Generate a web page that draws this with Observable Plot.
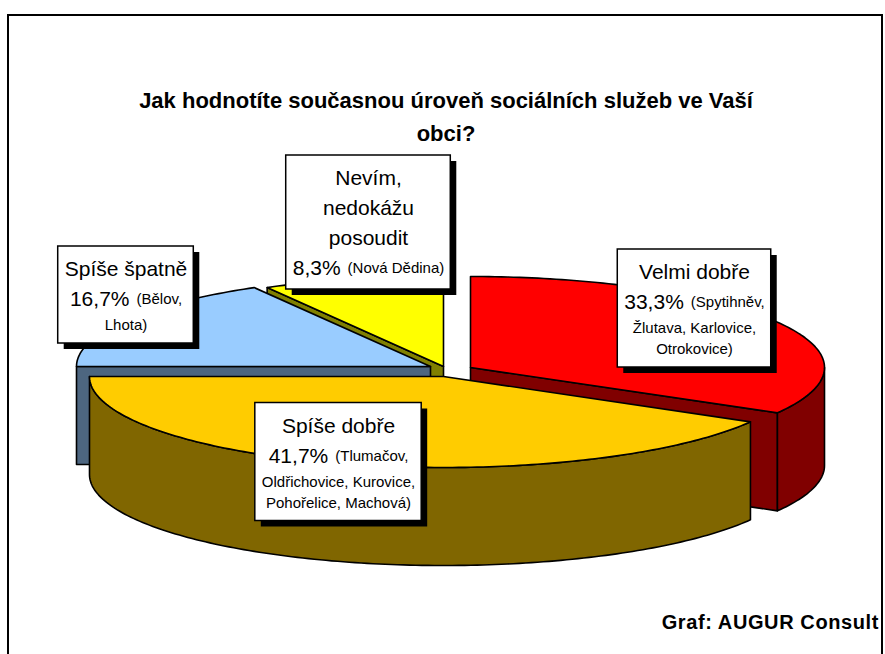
<!DOCTYPE html>
<html><head><meta charset="utf-8">
<script src="https://cdn.jsdelivr.net/npm/d3@7"></script>
<script src="https://cdn.jsdelivr.net/npm/@observablehq/plot@0.6"></script>
<style>
body{margin:0;background:#fff;}
#wrap{position:relative;width:885px;height:654px;overflow:hidden;font-family:"Liberation Sans",Arial,sans-serif;color:#000;}
#chart{position:absolute;left:0;top:0;}
#frame{position:absolute;left:7px;top:14px;width:872px;height:700px;border:2px solid #000;pointer-events:none;}
#title{position:absolute;left:126px;width:640px;top:84px;text-align:center;font-weight:bold;font-size:22px;line-height:33px;}
#caption{position:absolute;right:6px;top:611px;font-weight:bold;font-size:20px;letter-spacing:0.6px;white-space:nowrap;}
</style></head>
<body><div id="wrap"><div id="chart"></div><div id="frame"></div><div id="title"></div><div id="caption"></div></div>
<script>
// ---- data ----
const titleText = "Jak hodnotíte současnou úroveň sociálních služeb ve Vaší obci?";
const captionText = "Graf: AUGUR Consult";
const categories = ["Velmi dobře", "Spíše dobře", "Spíše špatně", "Nevím, nedokážu posoudit"];
const shares = [33.3, 41.7, 16.7, 8.3];
const towns = [
  ["Spytihněv", "Žlutava", "Karlovice", "Otrokovice"],
  ["Tlumačov", "Oldřichovice", "Kurovice", "Pohořelice", "Machová"],
  ["Bělov", "Lhota"],
  ["Nová Dědina"]
];
const topColors = ["#FF0000", "#FFCC00", "#99CCFF", "#FFFF00"];
const sideColors = ["#800000", "#806600", "#4D6680", "#808000"];

// ---- layout ----
const W = 885, H = 654;
const base = {x: 443, y: 366};
const rx = 354, ry = 91, depth = 98;
const explode = [[27, 1], [0, 10], [-13, 0], [0, 0]];
const drawOrder = [3, 2, 0, 1];
const townsPerLine = [[1, 2, 1], [1, 2, 2], [1, 1], [1]];
const wrapName = [false, false, false, true];
const labelCenters = [[694, 308], [338, 461.5], [125.5, 294.5], [368, 222]];
const BIG = 21, SMALL = 15, GAP = 7, FONT = "Liberation Sans";

document.getElementById("title").textContent = titleText;
document.getElementById("caption").textContent = captionText;

// ---- pie geometry ----
const total = d3.sum(shares);
let acc = 0;
const slices = shares.map((v, i) => {
  const a0 = acc / total * 2 * Math.PI; acc += v;
  const a1 = acc / total * 2 * Math.PI;
  return {i, a0, a1, cx: base.x + explode[i][0], cy: base.y + explode[i][1]};
});
const P = (s, a, z = 0) => ({x: s.cx + rx * Math.sin(a), y: s.cy - ry * Math.cos(a) + z});
function arc(s, a0, a1, z) {
  const n = Math.max(2, Math.ceil(Math.abs(a1 - a0) / (Math.PI / 180)));
  return d3.range(n + 1).map(k => P(s, a0 + (a1 - a0) * k / n, z));
}
const polys = [];
for (const i of drawOrder) {
  const s = slices[i];
  const C = {x: s.cx, y: s.cy}, Cb = {x: s.cx, y: s.cy + depth};
  if (Math.sin(s.a0) < -1e-6) polys.push({pts: [C, P(s, s.a0), P(s, s.a0, depth), Cb], fill: sideColors[i]});
  if (Math.sin(s.a1) > 1e-6) polys.push({pts: [C, P(s, s.a1), P(s, s.a1, depth), Cb], fill: sideColors[i]});
  const w0 = Math.max(s.a0, Math.PI / 2), w1 = Math.min(s.a1, 3 * Math.PI / 2);
  if (w1 > w0) polys.push({pts: [...arc(s, w0, w1, 0), ...arc(s, w1, w0, depth)], fill: sideColors[i]});
  polys.push({pts: [C, ...arc(s, s.a0, s.a1, 0)], fill: topColors[i]});
}

// ---- labels ----
const ctx = document.createElement("canvas").getContext("2d");
function tw(t, size) { ctx.font = `${size}px "${FONT}"`; return ctx.measureText(t).width; }
const fmt = v => v.toFixed(1).replace(".", ",") + "%";
const boxes = [], bigText = [], smallText = [];
categories.forEach((name, i) => {
  const tl = []; let idx = 0;
  for (const c of townsPerLine[i]) {
    let seg = towns[i].slice(idx, idx + c).join(", ");
    if (idx === 0) seg = "(" + seg;
    idx += c;
    seg += idx >= towns[i].length ? ")" : ",";
    tl.push(seg);
  }
  const names = wrapName[i] ? name.split(" ") : [name];
  const lines = [
    ...names.map(t => [{t, big: true}]),
    [{t: fmt(shares[i]), big: true}, {t: tl[0], big: false}],
    ...tl.slice(1).map(t => [{t, big: false}])
  ];
  let y = 23; const ys = [];
  lines.forEach((ln, k) => {
    if (k > 0) {
      const prevBig = lines[k - 1].some(s => s.big), curBig = ln.some(s => s.big);
      y += curBig ? 30 : prevBig ? 26 : 21;
    }
    ys.push(y);
  });
  const widths = lines.map(ln => d3.sum(ln, s => tw(s.t, s.big ? BIG : SMALL)) + GAP * (ln.length - 1));
  const bw = d3.max(widths) + 13;
  const lastBig = lines[lines.length - 1].some(s => s.big);
  const bh = ys[ys.length - 1] + (lastBig ? 21 : 18);
  const [cx, cy] = labelCenters[i];
  const bx = cx - bw / 2, by = cy - bh / 2;
  boxes.push({x: bx, y: by, w: bw, h: bh});
  lines.forEach((ln, k) => {
    let x = cx - widths[k] / 2;
    for (const s of ln) {
      (s.big ? bigText : smallText).push({x, y: by + ys[k], t: s.t});
      x += tw(s.t, s.big ? BIG : SMALL) + GAP;
    }
  });
});

const chart = Plot.plot({
  width: W, height: H, margin: 0,
  x: {domain: [0, W], range: [0, W], axis: null},
  y: {domain: [0, H], range: [0, H], axis: null},
  marks: [
    ...polys.map(p => Plot.line(p.pts, {x: "x", y: "y", fill: p.fill, stroke: "#000", strokeWidth: 1.6, curve: "linear-closed", strokeLinejoin: "round"})),
    Plot.rect(boxes, {x1: d => d.x + 6, x2: d => d.x + d.w + 6, y1: d => d.y + 6, y2: d => d.y + d.h + 6, fill: "#000"}),
    Plot.rect(boxes, {x1: "x", x2: d => d.x + d.w, y1: "y", y2: d => d.y + d.h, fill: "#fff", stroke: "#000", strokeWidth: 1.5}),
    Plot.text(bigText, {x: "x", y: "y", text: "t", textAnchor: "start", fontSize: BIG, fontFamily: FONT, fill: "#000"}),
    Plot.text(smallText, {x: "x", y: "y", text: "t", textAnchor: "start", fontSize: SMALL, fontFamily: FONT, fill: "#000"})
  ]
});
document.getElementById("chart").appendChild(chart);
</script>
</body></html>
